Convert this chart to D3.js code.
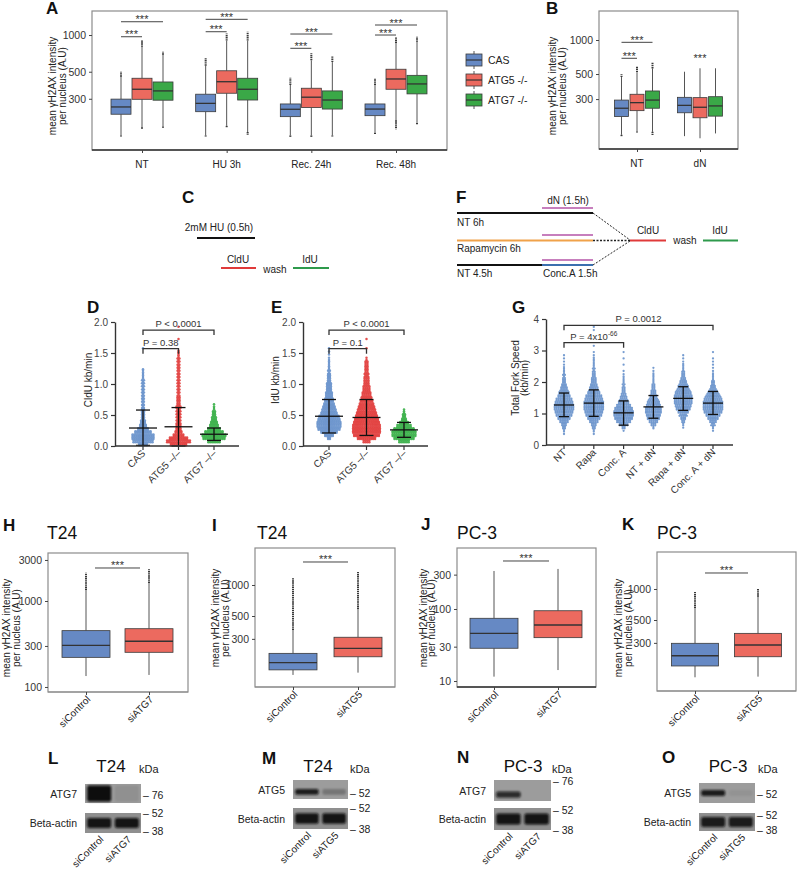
<!DOCTYPE html>
<html><head><meta charset="utf-8">
<script src="https://cdn.jsdelivr.net/npm/d3@7"></script>
<style>body{margin:0;background:#fff}svg{display:block}</style>
</head><body>
<svg id="fig" width="797" height="873"></svg>
<script>
// ---------------- DATA ----------------
// box stats: [outlierLow, whiskerLow, q1, median, q3, whiskerHigh, outlierHigh]
const groupNames = ["CAS", "ATG5 -/-", "ATG7 -/-"];
const conditionsA = ["NT", "HU 3h", "Rec. 24h", "Rec. 48h"];
const boxA_CAS  = [[147,150,224,257,298,455,500],[147,150,235,275,327,560,644],[145,150,214,246,272,390,447],[154,158,218,247,272,390,442]];
const boxA_ATG5 = [[170,175,297,359,442,800,910],[175,180,333,414,509,900,1030],[145,150,254,309,366,620,708],[169,200,359,436,524,860,958]];
const boxA_ATG7 = [[172,178,292,348,412,690,730],[151,160,293,359,442,900,1065],[147,150,247,293,348,600,676],[183,190,329,397,467,880,969]];
const ticksA = [300, 500, 1000];
const sigA = [["NT",0,1,968],["NT",0,2,1285],["HU 3h",0,1,1064],["HU 3h",0,2,1345],["Rec. 24h",0,1,778],["Rec. 24h",0,2,1019],["Rec. 48h",0,1,1000],["Rec. 48h",0,2,1208]];

const conditionsB = ["NT", "dN"];
const boxB_CAS  = [[139,145,210,249,294,470,497],[141,141,227,264,311,524,524]];
const boxB_ATG5 = [[152,155,237,279,331,520,580],[135,135,205,254,309,562,562]];
const boxB_ATG7 = [[144,154,249,294,354,560,630],[149,149,212,261,315,562,562]];
const ticksB = [300, 500, 1000];
const sigB = [["NT",0,1,689,true],["NT",0,2,954,true],["dN",0,2,665,false]];

const catsH = ["siControl", "siATG7"];
const boxH = [[134,134,221,305,452,1343,2134],[138,138,253,340,476,1620,2337]];
const ticksH = [100, 300, 1000, 3000];
const sigH = 2420;
const catsI = ["siControl", "siATG5"];
const boxI = [[134,134,150,176,217,366,1170],[141,141,201,243,311,585,1346]];
const ticksI = [300, 500, 1000];
const sigI = 1672;
const catsJ = ["siControl", "siATG7"];
const boxJ = [[11.5,11.5,28.5,46,74.3,337,337],[14.2,14.2,40,60,94.6,360,360]];
const ticksJ = [10, 30, 100, 300];
const sigJ = 464;
const catsK = ["siControl", "siATG5"];
const boxK = [[139,139,179,225,297,654,942],[141,141,220,286,371,841,1000]];
const ticksK = [300, 500, 1000];
const sigK = 1430;

// fiber speed distributions: dot counts per bin (bin 0.05 kb/min for D/E, 0.1 for G)
const swarmCats = ["CAS", "ATG5 –/–", "ATG7 –/–"];
const cldU_CAS  = [10,22,24,24,18,12,8,6,5,4,4,4,3,3,3,3,3,3,3,3,3,3,2,2,2,0,0,0,0,0,0,1];
const cldU_ATG5 = [18,26,20,12,8,6,6,5,5,5,5,5,6,4,4,4,3,3,3,3,3,3,3,3,3,3,3,3,3,2,2,0,0,0,1,0,0,0,1];
const cldU_ATG7 = [0,14,24,26,20,14,10,8,6,5,4,3,2,1];
const cldU_mean = [0.29, 0.31, 0.19], cldU_hi = [0.58, 0.62, 0.29], cldU_lo = [0.01, 0.0, 0.09];
const cldU_P = [[0,2,"P < 0.0001",1.87],[0,1,"P = 0.38",1.57]];

const idU_CAS  = [0,0,4,10,18,24,26,26,24,22,18,16,14,12,10,9,8,7,6,6,5,4,4,3,3,2,2,2,1,1,1,1];
const idU_ATG5 = [0,8,20,28,30,30,30,28,26,24,22,20,18,16,14,12,10,9,8,7,6,6,5,5,4,4,4,3,1,0,0,1,0,0,1];
const idU_ATG7 = [0,12,22,26,26,22,16,10,6,4,3,2];
const idU_mean = [0.48, 0.46, 0.26], idU_hi = [0.75, 0.75, 0.38], idU_lo = [0.21, 0.17, 0.14];
const idU_P = [[0,2,"P < 0.0001",1.87],[0,1,"P = 0.1",1.57]];

const forkCats = ["NT", "Rapa", "Conc. A", "NT + dN", "Rapa + dN", "Conc. A + dN"];
const fork_NT     = [0,0,0,1,2,4,6,10,14,18,20,22,22,20,18,14,12,9,7,5,4,3,3,2,2,1,1,1,1];
const fork_Rapa   = [0,0,0,1,2,4,6,10,14,18,20,22,22,22,20,18,14,11,9,7,6,5,4,3,3,2,2,2,1,1,0,1,0,0,0,0,1,1];
const fork_ConcA  = [0,0,0,0,1,4,10,16,20,22,22,20,16,12,9,7,5,4,3,3,2,2,1,1,0,1,0,1,0,1];
const fork_NTdN   = [0,0,0,0,0,2,6,10,14,16,18,18,16,14,11,8,6,5,4,3,2,2,2,1,1];
const fork_RapadN = [0,0,0,0,0,1,2,4,6,9,12,16,18,20,20,20,18,15,12,9,7,5,4,3,2,2,1,1,1];
const fork_ConcAdN= [0,0,0,0,1,2,5,8,12,16,20,22,22,22,20,17,13,9,6,4,3,2,2,1,1,1,1,1,0,1];
const fork_mean = [1.27, 1.33, 1.02, 1.21, 1.48, 1.33];
const fork_hi   = [1.65, 1.75, 1.40, 1.57, 1.85, 1.70];
const fork_lo   = [0.90, 0.91, 0.63, 0.85, 1.10, 0.97];
const fork_P = [[0,5,"P = 0.0012",3.8],[0,2,"P = 4x10",3.25]];

// western blots: band intensities per lane (target row, beta-actin row)
const blotL_lanes = ["siControl", "siATG7"], blotL_bands = [[1.0, 0.08],[0.95, 0.95]], blotL_kDa = [["76"],["52","38"]], blotL_target = "ATG7";
const blotM_lanes = ["siControl", "siATG5"], blotM_bands = [[0.9, 0.25],[0.95, 0.95]], blotM_kDa = [["52"],["52","38"]], blotM_target = "ATG5";
const blotN_lanes = ["siControl", "siATG7"], blotN_bands = [[0.8, 0.0],[0.95, 0.95]], blotN_kDa = [["76"],["52","38"]], blotN_target = "ATG7";
const blotO_lanes = ["siControl", "siATG5"], blotO_bands = [[0.9, 0.06],[0.9, 0.9]], blotO_kDa = [["52"],["52","38"]], blotO_target = "ATG5";

// ---------------- STYLE ----------------
const FONT = "'Liberation Sans', Arial, Helvetica, sans-serif";
const boxColors = ["#6689c4", "#ec6a5f", "#3aa847"];
const dotColors = ["#6a94cc", "#e2403f", "#3cb14b"];
const svg = d3.select("#fig").style("font-family", FONT);
svg.append("rect").attr("width", 797).attr("height", 873).attr("fill", "#fff");

function letter(t, x, y) {
  svg.append("text").attr("x", x).attr("y", y).attr("font-size", 17).attr("font-weight", "bold").attr("fill", "#111").text(t);
}
function txt(t, x, y, size, anchor, fill) {
  return svg.append("text").attr("x", x).attr("y", y).attr("font-size", size)
    .attr("text-anchor", anchor || "start").attr("fill", fill || "#222").text(t);
}
function yTitle(lines, xs, cy, size) {
  lines.forEach((l, i) => {
    svg.append("text").attr("transform", `translate(${xs[i]},${cy}) rotate(-90)`)
      .attr("text-anchor", "middle").attr("font-size", size || 10).attr("fill", "#222").text(l);
  });
}

// ---------- box panel ----------
function boxPanel(o) {
  const [fx0, fy0, fx1, fy1] = o.frame;
  const y = d3.scaleLog().domain(o.yDomain).range([fy1, fy0]);
  const x = d3.scalePoint().domain(o.cats).range(o.xRange);
  const g = svg.append("g");
  g.append("rect").attr("x", fx0).attr("y", fy0).attr("width", fx1 - fx0).attr("height", fy1 - fy0)
    .attr("fill", "none").attr("stroke", "#8c8c8c").attr("stroke-width", 1.2);
  g.append("line").attr("x1", fx0).attr("x2", fx1).attr("y1", fy1).attr("y2", fy1)
    .attr("stroke", o.darkBottom ? "#333" : "#8c8c8c").attr("stroke-width", o.darkBottom ? 1.6 : 1.2);
  const ya = g.append("g").attr("transform", `translate(${fx0},0)`)
    .call(d3.axisLeft(y).tickValues(o.ticks).tickFormat(d3.format("d")).tickSize(3).tickPadding(3));
  ya.select(".domain").remove();
  ya.selectAll("line").attr("stroke", "#444");
  ya.selectAll("text").attr("font-size", 10.5).attr("fill", "#333").attr("font-family", FONT);
  const xa = g.append("g").attr("transform", `translate(0,${fy1})`)
    .call(d3.axisBottom(x).tickSize(3).tickFormat(""));
  xa.select(".domain").remove();
  xa.selectAll("line").attr("stroke", "#444");
  o.cats.forEach(c => {
    if (o.rotLabels) {
      g.append("text").attr("transform", `translate(${x(c) + 5},${fy1 + 8}) rotate(-45)`)
        .attr("text-anchor", "end").attr("font-size", 10).attr("fill", "#222").text(c);
    } else {
      g.append("text").attr("x", x(c)).attr("y", fy1 + 18).attr("text-anchor", "middle")
        .attr("font-size", 10).attr("fill", "#222").text(c);
    }
  });
  const nS = o.series.length;
  const off = gi => (gi - (nS - 1) / 2) * o.dodge;
  o.series.forEach((ser, gi) => {
    o.cats.forEach((c, ci) => {
      const st = ser[ci];
      if (!st) return;
      const [oLo, wLo, q1, md, q3, wHi, oHi] = st;
      const cx = x(c) + off(gi);
      const col = nS > 1 ? boxColors[gi] : boxColors[ci];
      g.append("line").attr("x1", cx).attr("x2", cx).attr("y1", y(wLo)).attr("y2", y(q1)).attr("stroke", "#555").attr("stroke-width", 1);
      g.append("line").attr("x1", cx).attr("x2", cx).attr("y1", y(q3)).attr("y2", y(wHi)).attr("stroke", "#555").attr("stroke-width", 1);
      if (oHi > wHi) g.append("line").attr("x1", cx).attr("x2", cx).attr("y1", y(wHi)).attr("y2", y(oHi))
        .attr("stroke", "#3a3a3a").attr("stroke-width", 2).attr("stroke-dasharray", "1.4,0.7");
      if (oLo < wLo) g.append("line").attr("x1", cx).attr("x2", cx).attr("y1", y(wLo)).attr("y2", y(oLo))
        .attr("stroke", "#3a3a3a").attr("stroke-width", 2).attr("stroke-dasharray", "1.4,0.7");
      g.append("rect").attr("x", cx - o.boxW / 2).attr("y", y(q3)).attr("width", o.boxW).attr("height", y(q1) - y(q3))
        .attr("fill", col).attr("stroke", "#3a3a3a").attr("stroke-width", 0.8);
      g.append("line").attr("x1", cx - o.boxW / 2).attr("x2", cx + o.boxW / 2).attr("y1", y(md)).attr("y2", y(md))
        .attr("stroke", "#333").attr("stroke-width", 1.3);
    });
  });
  (o.sig || []).forEach(s => {
    let xa1, xa2, lv, drawLine = true;
    if (nS > 1) { xa1 = x(s[0]) + off(s[1]); xa2 = x(s[0]) + off(s[2]); lv = s[3]; if (s.length > 4) drawLine = s[4]; }
    else { xa1 = x(o.cats[0]) + o.sigInset; xa2 = x(o.cats[1]) - o.sigInset; lv = s; }
    const yy = y(lv);
    if (drawLine) g.append("line").attr("x1", xa1).attr("x2", xa2).attr("y1", yy).attr("y2", yy).attr("stroke", "#444").attr("stroke-width", 1);
    g.append("text").attr("x", (xa1 + xa2) / 2).attr("y", yy + 1.5).attr("text-anchor", "middle")
      .attr("font-size", 11).attr("fill", "#333").text("***");
  });
}

// ---------- swarm panel ----------
function swarmPanel(o) {
  const y = d3.scaleLinear().domain(o.yDomain).range([o.yBottom, o.yTop]);
  const x = d3.scalePoint().domain(o.cats).range(o.xRange);
  const g = svg.append("g");
  o.series.forEach((counts, si) => {
    const cx = x(o.cats[si]);
    const col = o.colors[si];
    counts.forEach((n, bi) => {
      if (!n) return;
      const rows = n > 1 ? 2 : 1;
      for (let r = 0; r < rows; r++) {
        const m = r === 0 ? Math.ceil(n / rows) : Math.floor(n / rows);
        const v = (bi + (rows === 1 ? 0.5 : (r + 0.5) / 2)) * o.binW;
        for (let k = 0; k < m; k++) {
          g.append("circle").attr("cx", cx + (k - (m - 1) / 2) * o.sp).attr("cy", y(v)).attr("r", o.r)
            .attr("fill", col).attr("fill-opacity", 0.92);
        }
      }
    });
    const ym = y(o.mean[si]), yh = y(o.hi[si]), yl = y(o.lo[si]);
    const ln = (x1, x2, y1, y2) => g.append("line").attr("x1", x1).attr("x2", x2).attr("y1", y1).attr("y2", y2)
      .attr("stroke", "#111").attr("stroke-width", 1.3);
    ln(cx, cx, yl, yh);
    ln(cx - o.meanHW, cx + o.meanHW, ym, ym);
    ln(cx - o.capHW, cx + o.capHW, yh, yh);
    ln(cx - o.capHW, cx + o.capHW, yl, yl);
  });
  const ya = g.append("g").attr("transform", `translate(${o.axisX},0)`)
    .call(d3.axisLeft(y).tickValues(o.ticks).tickFormat(o.fmt).tickSize(4).tickSizeOuter(0).tickPadding(3));
  ya.select(".domain").attr("stroke", "#333").attr("stroke-width", 1.4);
  ya.selectAll("line").attr("stroke", "#333").attr("stroke-width", 1.2);
  ya.selectAll("text").attr("font-size", 10).attr("fill", "#444").attr("font-family", FONT);
  g.append("line").attr("x1", o.axisX).attr("x2", o.axisX1).attr("y1", o.yBottom).attr("y2", o.yBottom)
    .attr("stroke", "#333").attr("stroke-width", 1.4);
  o.cats.forEach(c => {
    g.append("line").attr("x1", x(c)).attr("x2", x(c)).attr("y1", o.yBottom).attr("y2", o.yBottom + 4)
      .attr("stroke", "#333").attr("stroke-width", 1.2);
    g.append("text").attr("transform", `translate(${x(c) + 3},${o.yBottom + 8}) rotate(-45)`)
      .attr("text-anchor", "end").attr("font-size", 10).attr("fill", "#333").text(c);
  });
  o.pvals.forEach(p => {
    const x1 = x(o.cats[p[0]]), x2 = x(o.cats[p[1]]), yy = y(p[3]);
    g.append("path").attr("d", `M${x1},${yy + 5}V${yy}H${x2}V${yy + 5}`).attr("fill", "none")
      .attr("stroke", "#333").attr("stroke-width", 1.3);
    const t = g.append("text").attr("x", (x1 + x2) / 2).attr("y", yy - 3).attr("text-anchor", "middle")
      .attr("font-size", 9.5).attr("fill", "#333").text(p[2]);
    if (p[2].endsWith("x10")) t.append("tspan").attr("font-size", 6.5).attr("dy", -4).text("-66");
  });
}

// ---------- blot ----------
const defs = svg.append("defs");
defs.append("filter").attr("id", "blur").attr("x", "-30%").attr("y", "-60%").attr("width", "160%").attr("height", "220%")
  .append("feGaussianBlur").attr("stdDeviation", 1.3);
function blotPanel(o) {
  const g = svg.append("g");
  const rowNames = [o.target, "Beta-actin"];
  const bgs = ["#9c9c9c", "#8f8f8f"];
  o.rows.forEach((r, ri) => {
    g.append("rect").attr("x", o.x).attr("y", r.y).attr("width", o.w).attr("height", r.h).attr("fill", bgs[ri]);
    const lx = d3.scaleBand().domain(o.lanes).range([o.x, o.x + o.w]).paddingInner(0.06).paddingOuter(0.04);
    o.bands[ri].forEach((inten, li) => {
      if (inten <= 0) return;
      const bh = r.h * r.bandFrac;
      g.append("rect").attr("x", lx(o.lanes[li]) + 1).attr("y", r.y + r.h * r.bandPos - bh / 2)
        .attr("width", lx.bandwidth() - 2).attr("height", bh).attr("rx", 2)
        .attr("fill", "#0d0d0d").attr("fill-opacity", inten).attr("filter", "url(#blur)");
    });
    g.append("text").attr("x", o.x - 8).attr("y", r.y + r.h / 2 + 4).attr("text-anchor", "end")
      .attr("font-size", 10.5).attr("fill", "#222").text(rowNames[ri]);
    o.kDa[ri].forEach((k, ki) => {
      const my = r.marks[ki];
      g.append("text").attr("x", o.x + o.w + 2).attr("y", my + 4).attr("font-size", 10.5).attr("fill", "#222").text("– " + k);
    });
    if (ri === 1) {
      o.lanes.forEach(l => {
        g.append("text").attr("transform", `translate(${lx(l) + lx.bandwidth() / 2 + 5},${r.y + r.h + 7}) rotate(-45)`)
          .attr("text-anchor", "end").attr("font-size", 10).attr("fill", "#222").text(l);
      });
    }
  });
  txt(o.title, o.titleX, o.titleY, 17, "middle", "#111");
  txt("kDa", o.kdaX, o.titleY + 1, 11, "start", "#222");
}

// ================= PANEL A =================
letter("A", 46, 14);
boxPanel({ frame: [92, 11, 447, 150], yDomain: [114, 1574], ticks: ticksA, cats: conditionsA, xRange: [142, 396],
  series: [boxA_CAS, boxA_ATG5, boxA_ATG7], dodge: 21, boxW: 20, sig: sigA, darkBottom: true });
yTitle(["mean γH2AX intensity", "per nucleus (A.U)"], [56, 66], 86, 10);
groupNames.forEach((n, i) => {
  const ly = 60 + i * 20;
  svg.append("line").attr("x1", 474).attr("x2", 474).attr("y1", ly - 9).attr("y2", ly + 9).attr("stroke", "#555");
  svg.append("rect").attr("x", 466).attr("y", ly - 6).attr("width", 16).attr("height", 12)
    .attr("fill", boxColors[i]).attr("stroke", "#3a3a3a").attr("stroke-width", 0.8);
  svg.append("line").attr("x1", 466).attr("x2", 482).attr("y1", ly).attr("y2", ly).attr("stroke", "#333").attr("stroke-width", 1.2);
  txt(n, 488, ly + 4, 10.5, "start", "#222");
});

// ================= PANEL B =================
letter("B", 546, 14);
boxPanel({ frame: [599, 11, 738, 149], yDomain: [108.5, 1806], ticks: ticksB, cats: conditionsB, xRange: [637, 700],
  series: [boxB_CAS, boxB_ATG5, boxB_ATG7], dodge: 15.5, boxW: 14, sig: sigB, darkBottom: true });
yTitle(["mean γH2AX intensity", "per nucleus (A.U)"], [556, 566], 86, 10);

// ================= PANEL C =================
letter("C", 182, 203);
txt("2mM HU (0.5h)", 219, 231, 10, "middle");
svg.append("line").attr("x1", 197).attr("x2", 255).attr("y1", 238).attr("y2", 238).attr("stroke", "#111").attr("stroke-width", 2);
txt("CldU", 238, 263, 10, "middle");
svg.append("line").attr("x1", 221).attr("x2", 256).attr("y1", 268).attr("y2", 268).attr("stroke", "#e03a3a").attr("stroke-width", 2);
txt("wash", 275, 273, 10, "middle");
txt("IdU", 310, 263, 10, "middle");
svg.append("line").attr("x1", 293).attr("x2", 329).attr("y1", 268).attr("y2", 268).attr("stroke", "#2e9a4c").attr("stroke-width", 2);

// ================= PANEL F =================
letter("F", 456, 203);
const hl = (x1, x2, yy, c, w, dash) => svg.append("line").attr("x1", x1).attr("x2", x2).attr("y1", yy).attr("y2", yy)
  .attr("stroke", c).attr("stroke-width", w || 2).attr("stroke-dasharray", dash || null);
txt("dN (1.5h)", 568, 204, 10, "middle");
hl(542, 593, 208, "#c77fbd");
hl(457, 593, 213, "#111");
txt("NT 6h", 457, 226, 10);
hl(542, 593, 235, "#c77fbd");
hl(457, 593, 240.5, "#f0a24a");
txt("Rapamycin 6h", 457, 252, 10);
hl(542, 593, 260, "#c77fbd");
hl(457, 542, 265, "#111");
hl(542, 593, 265, "#3b6fae");
txt("NT 4.5h", 457, 277, 10);
txt("Conc.A 1.5h", 543, 277, 10);
svg.append("line").attr("x1", 593).attr("y1", 213).attr("x2", 630).attr("y2", 240).attr("stroke", "#222").attr("stroke-width", 1).attr("stroke-dasharray", "2,1.5");
svg.append("line").attr("x1", 593).attr("y1", 240.5).attr("x2", 630).attr("y2", 240.5).attr("stroke", "#222").attr("stroke-width", 1.5).attr("stroke-dasharray", "2,1.5");
svg.append("line").attr("x1", 593).attr("y1", 265).attr("x2", 630).attr("y2", 241).attr("stroke", "#222").attr("stroke-width", 1).attr("stroke-dasharray", "2,1.5");
hl(630, 666, 240.5, "#e03a3a");
txt("CldU", 648, 234, 10, "middle");
txt("wash", 685, 244, 10, "middle");
hl(703, 738, 240.5, "#2e9a4c");
txt("IdU", 720, 234, 10, "middle");

// ================= PANEL D / E / G =================
const fmt1 = d3.format(".1f");
letter("D", 87, 313);
swarmPanel({ yDomain: [0, 2], yBottom: 446, yTop: 322, cats: swarmCats, xRange: [143, 214], axisX: 115, axisX1: 239,
  series: [cldU_CAS, cldU_ATG5, cldU_ATG7], colors: dotColors, binW: 0.05, sp: 1.9, r: 1.25,
  mean: cldU_mean, hi: cldU_hi, lo: cldU_lo, meanHW: 14, capHW: 7, ticks: [0, 0.5, 1, 1.5, 2], fmt: fmt1, pvals: cldU_P });
yTitle(["CldU kb/min"], [92], 380, 10);

letter("E", 271, 313);
swarmPanel({ yDomain: [0, 2], yBottom: 446, yTop: 322, cats: swarmCats, xRange: [329, 404], axisX: 303, axisX1: 428,
  series: [idU_CAS, idU_ATG5, idU_ATG7], colors: dotColors, binW: 0.05, sp: 1.9, r: 1.25,
  mean: idU_mean, hi: idU_hi, lo: idU_lo, meanHW: 14, capHW: 7, ticks: [0, 0.5, 1, 1.5, 2], fmt: fmt1, pvals: idU_P });
yTitle(["IdU kb/min"], [279], 380, 10);

letter("G", 512, 313);
swarmPanel({ yDomain: [0, 4], yBottom: 445, yTop: 319, cats: forkCats, xRange: [564, 713], axisX: 546, axisX1: 733,
  series: [fork_NT, fork_Rapa, fork_ConcA, fork_NTdN, fork_RapadN, fork_ConcAdN], colors: d3.range(6).map(() => "#6a94cc"),
  binW: 0.1, sp: 1.85, r: 1.15, mean: fork_mean, hi: fork_hi, lo: fork_lo, meanHW: 10, capHW: 5,
  ticks: [0, 1, 2, 3, 4], fmt: d3.format("d"), pvals: fork_P });
yTitle(["Total Fork Speed", "(kb/min)"], [519, 528], 378, 10);

// ================= PANELS H-K =================
letter("H", 3, 531);
txt("T24", 47, 539, 17.5, "start", "#111");
boxPanel({ frame: [48, 553, 188, 692], yDomain: [87.4, 3615], ticks: ticksH, cats: catsH, xRange: [86, 149],
  series: [boxH], dodge: 0, boxW: 48, sig: [sigH], sigInset: 9, rotLabels: true });
yTitle(["mean γH2AX intensity", "per nucleus (A.U)"], [10, 20], 628, 10);

letter("I", 212, 531);
txt("T24", 257, 539, 17.5, "start", "#111");
boxPanel({ frame: [255, 548, 395, 687], yDomain: [102.3, 2286], ticks: ticksI, cats: catsI, xRange: [293, 358],
  series: [boxI], dodge: 0, boxW: 48, sig: [sigI], sigInset: 10, rotLabels: true });
yTitle(["mean γH2AX intensity", "per nucleus (A.U)"], [219, 229], 618, 10);

letter("J", 421, 530);
txt("PC-3", 457, 539, 17.5, "start", "#111");
boxPanel({ frame: [457, 548, 596, 687], yDomain: [8.26, 703], ticks: ticksJ, cats: catsJ, xRange: [494, 558],
  series: [boxJ], dodge: 0, boxW: 48, sig: [sigJ], sigInset: 9, rotLabels: true, darkBottom: true });
yTitle(["mean γH2AX intensity", "per nucleus (A.U)"], [427, 435], 618, 10);

letter("K", 622, 530);
txt("PC-3", 657, 539, 17.5, "start", "#111");
boxPanel({ frame: [657, 552, 796, 691], yDomain: [102.3, 2286], ticks: ticksK, cats: catsK, xRange: [695, 758],
  series: [boxK], dodge: 0, boxW: 47, sig: [sigK], sigInset: 10, rotLabels: true });
yTitle(["mean γH2AX intensity", "per nucleus (A.U)"], [622, 632], 628, 10);

// ================= BLOTS L-O =================
letter("L", 48, 764);
blotPanel({ x: 85, w: 56, lanes: blotL_lanes, bands: blotL_bands, kDa: blotL_kDa, target: blotL_target,
  rows: [{ y: 784, h: 19, bandFrac: 0.85, bandPos: 0.5, marks: [795] }, { y: 813, h: 20, bandFrac: 0.5, bandPos: 0.5, marks: [813, 831] }],
  title: "T24", titleX: 111, titleY: 772, kdaX: 139 });
letter("M", 262, 764);
blotPanel({ x: 293, w: 55, lanes: blotM_lanes, bands: blotM_bands, kDa: blotM_kDa, target: blotM_target,
  rows: [{ y: 780, h: 19, bandFrac: 0.3, bandPos: 0.62, marks: [793] }, { y: 808, h: 21, bandFrac: 0.5, bandPos: 0.5, marks: [808, 829] }],
  title: "T24", titleX: 318, titleY: 772, kdaX: 350 });
letter("N", 457, 763);
blotPanel({ x: 494, w: 57, lanes: blotN_lanes, bands: blotN_bands, kDa: blotN_kDa, target: blotN_target,
  rows: [{ y: 780, h: 21, bandFrac: 0.3, bandPos: 0.7, marks: [781] }, { y: 808, h: 22, bandFrac: 0.5, bandPos: 0.5, marks: [810, 830] }],
  title: "PC-3", titleX: 523, titleY: 772, kdaX: 552 });
letter("O", 662, 763);
blotPanel({ x: 699, w: 56, lanes: blotO_lanes, bands: blotO_bands, kDa: blotO_kDa, target: blotO_target,
  rows: [{ y: 783, h: 20, bandFrac: 0.3, bandPos: 0.5, marks: [794] }, { y: 813, h: 18, bandFrac: 0.55, bandPos: 0.5, marks: [815, 830] }],
  title: "PC-3", titleX: 728, titleY: 772, kdaX: 758 });
</script>
</body></html>
